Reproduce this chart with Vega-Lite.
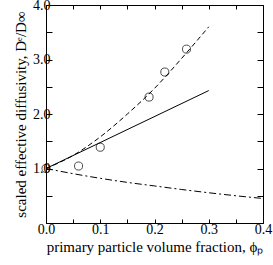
{
  "$schema": "https://vega.github.io/schema/vega-lite/v6.json",
  "autosize": "none",
  "width": 217,
  "height": 218,
  "padding": {"left": 46, "top": 5, "right": 10, "bottom": 42},
  "background": "white",
  "config": {
    "view": {"stroke": null},
    "font": "Liberation Serif",
    "axis": {"domainColor": "black", "tickColor": "black", "labelColor": "black", "titleColor": "black", "grid": false, "labelFont": "Liberation Serif", "titleFont": "Liberation Serif", "labelFontSize": 14, "titleFontSize": 15, "titleFontWeight": "normal", "domainWidth": 1, "tickWidth": 1}
  },
  "datasets": {
    "pts": [
      {"x": 0.0, "y": 1.0},
      {"x": 0.06, "y": 1.045},
      {"x": 0.10, "y": 1.39},
      {"x": 0.19, "y": 2.31},
      {"x": 0.219, "y": 2.77},
      {"x": 0.259, "y": 3.19}
    ],
    "curves": [
      {"s": "dash", "x": 0.0, "y": 1.0},
      {"s": "dash", "x": 0.05, "y": 1.24},
      {"s": "dash", "x": 0.1, "y": 1.58},
      {"s": "dash", "x": 0.15, "y": 2.0},
      {"s": "dash", "x": 0.2, "y": 2.47},
      {"s": "dash", "x": 0.25, "y": 3.02},
      {"s": "dash", "x": 0.3, "y": 3.6},
      {"s": "solid", "x": 0.0, "y": 1.0},
      {"s": "solid", "x": 0.3, "y": 2.43},
      {"s": "dashdot", "x": 0.0, "y": 1.0},
      {"s": "dashdot", "x": 0.05, "y": 0.905},
      {"s": "dashdot", "x": 0.1, "y": 0.82},
      {"s": "dashdot", "x": 0.15, "y": 0.745},
      {"s": "dashdot", "x": 0.2, "y": 0.68},
      {"s": "dashdot", "x": 0.25, "y": 0.615},
      {"s": "dashdot", "x": 0.3, "y": 0.555},
      {"s": "dashdot", "x": 0.35, "y": 0.5},
      {"s": "dashdot", "x": 0.4, "y": 0.45}
    ]
  },
  "layer": [
    {
      "data": {"name": "curves"},
      "transform": [{"filter": "datum.s === 'dash'"}],
      "mark": {"type": "line", "color": "black", "strokeWidth": 1, "strokeDash": [5, 3], "interpolate": "monotone", "clip": true},
      "encoding": {
        "x": {"field": "x", "type": "quantitative", "scale": {"domain": [0, 0.4], "nice": false},
          "axis": {"title": "primary particle volume fraction, ϕₚ", "values": [0, 0.05, 0.1, 0.15, 0.2, 0.25, 0.3, 0.35, 0.4], "labelExpr": "(round(datum.value*100) % 10 == 0) ? format(datum.value, '.1f') : ''", "tickSize": -4, "labelPadding": 3, "titlePadding": 3, "labelFlush": false}},
        "y": {"field": "y", "type": "quantitative", "scale": {"domain": [0, 4], "nice": false},
          "axis": {"title": "scaled effective diffusivity,  Dᵉ/D∞", "values": [0, 0.5, 1, 1.5, 2, 2.5, 3, 3.5, 4], "labelExpr": "(datum.value > 0 && round(datum.value*10) % 10 == 0) ? format(datum.value, '.1f') : ''", "tickSize": -6, "labelPadding": 2, "titlePadding": 4, "labelFlush": false}}
      }
    },
    {
      "data": {"name": "curves"},
      "transform": [{"filter": "datum.s === 'solid'"}],
      "mark": {"type": "line", "color": "black", "strokeWidth": 1, "clip": true},
      "encoding": {
        "x": {"field": "x", "type": "quantitative", "axis": null},
        "y": {"field": "y", "type": "quantitative", "axis": null}
      }
    },
    {
      "data": {"name": "curves"},
      "transform": [{"filter": "datum.s === 'dashdot'"}],
      "mark": {"type": "line", "color": "black", "strokeWidth": 1, "strokeDash": [7, 3, 2, 3], "interpolate": "monotone", "clip": true},
      "encoding": {
        "x": {"field": "x", "type": "quantitative", "axis": null},
        "y": {"field": "y", "type": "quantitative", "axis": null}
      }
    },
    {
      "data": {"name": "pts"},
      "mark": {"type": "point", "shape": "circle", "filled": false, "color": "black", "strokeWidth": 1, "size": 65},
      "encoding": {
        "x": {"field": "x", "type": "quantitative", "axis": null},
        "y": {"field": "y", "type": "quantitative", "axis": null}
      }
    },
    {
      "data": {"values": [{"x": 0, "y": 0}]},
      "mark": {"type": "point", "opacity": 0},
      "encoding": {
        "x": {"field": "x", "type": "quantitative", "scale": {"domain": [0, 0.4], "nice": false},
          "axis": {"orient": "top", "title": null, "labels": false, "values": [0, 0.05, 0.1, 0.15, 0.2, 0.25, 0.3, 0.35, 0.4], "tickSize": -4}},
        "y": {"field": "y", "type": "quantitative", "scale": {"domain": [0, 4], "nice": false},
          "axis": {"orient": "right", "title": null, "labels": false, "values": [0, 0.5, 1, 1.5, 2, 2.5, 3, 3.5, 4], "tickSize": -6}}
      }
    }
  ],
  "resolve": {"axis": {"x": "independent", "y": "independent"}}
}
